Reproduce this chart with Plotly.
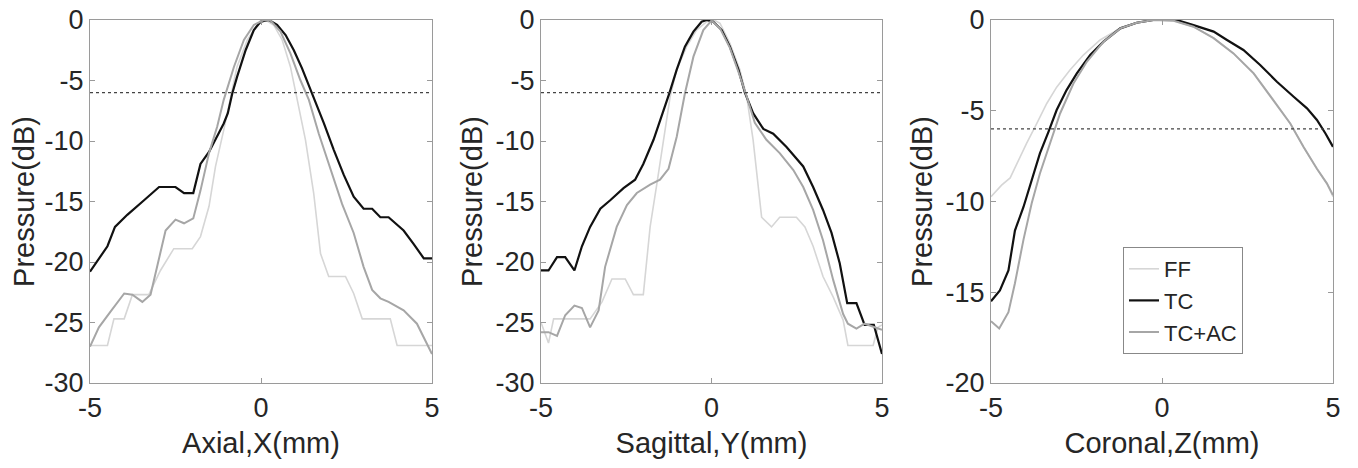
import plotly.graph_objects as go
from plotly.subplots import make_subplots

# ---------------- data ----------------
# Panel 1: Axial, X
ax_ff_x = [-5, -4.49, -4.30, -4.0, -3.76, -3.28, -2.94, -2.55, -2.01, -1.77, -1.52, -1.33, -1.09, -0.89, -0.70, -0.40, -0.11, 0.13, 0.37, 0.62, 0.86, 1.06, 1.30, 1.54, 1.74, 1.98, 2.47, 2.71, 2.96, 3.78, 3.98, 5]
ax_ff_y = [-26.9, -26.9, -24.7, -24.7, -22.7, -22.7, -20.7, -18.9, -18.9, -17.9, -15.4, -12.1, -9.1, -6.3, -3.86, -1.65, -0.41, 0, -0.41, -1.65, -3.86, -6.6, -9.9, -14.3, -19.3, -21.2, -21.2, -22.6, -24.7, -24.7, -26.9, -26.9]
ax_tc_x = [-5, -4.49, -4.27, -3.91, -3.42, -2.98, -2.50, -2.25, -1.98, -1.77, -1.52, -1.28, -1.09, -0.97, -0.84, -0.70, -0.45, -0.21, -0.015, 0.23, 0.47, 0.72, 0.96, 1.20, 1.50, 1.84, 2.13, 2.42, 2.71, 3.0, 3.25, 3.49, 3.73, 4.17, 4.46, 4.76, 5]
ax_tc_y = [-20.8, -18.7, -17.1, -16.1, -14.9, -13.8, -13.8, -14.3, -14.3, -11.9, -10.9, -9.65, -8.55, -7.7, -6.07, -4.7, -2.5, -0.83, -0.14, 0, -0.4, -1.24, -2.5, -4.0, -6.07, -8.55, -10.75, -12.8, -14.6, -15.6, -15.6, -16.3, -16.3, -17.4, -18.5, -19.7, -19.7]
ax_ac_x = [-5, -4.74, -4.40, -4.0, -3.76, -3.47, -3.23, -3.03, -2.79, -2.5, -2.25, -1.98, -1.77, -1.52, -1.28, -1.09, -0.79, -0.50, -0.21, 0.08, 0.28, 0.57, 0.86, 1.15, 1.40, 1.69, 2.03, 2.37, 2.71, 3.0, 3.25, 3.49, 3.73, 4.17, 4.56, 5]
ax_ac_y = [-27.0, -25.4, -24.1, -22.6, -22.7, -23.3, -22.7, -20.4, -17.4, -16.5, -16.8, -16.4, -14.1, -11.0, -8.8, -6.6, -3.86, -1.65, -0.41, 0, -0.05, -0.96, -2.76, -4.96, -6.6, -9.4, -12.4, -15.2, -17.6, -20.4, -22.3, -23.0, -23.3, -24.0, -25.1, -27.6]

# Panel 2: Sagittal, Y
sg_ff_x = [-5, -4.78, -4.63, -3.56, -3.21, -2.92, -2.53, -2.29, -2.0, -1.80, -1.60, -1.41, -1.21, -1.02, -0.73, -0.44, -0.14, 0.07, 0.25, 0.54, 0.83, 1.03, 1.22, 1.47, 1.76, 2.0, 2.49, 2.74, 2.98, 3.27, 3.57, 3.86, 4.0, 4.74, 4.88, 5]
sg_ff_y = [-25.0, -26.7, -24.7, -24.7, -23.3, -21.4, -21.4, -22.7, -22.7, -17.1, -13.5, -9.9, -6.3, -4.1, -2.2, -0.83, -0.14, 0, -0.28, -1.93, -4.1, -6.3, -9.9, -16.3, -17.1, -16.3, -16.3, -17.1, -18.7, -21.2, -22.9, -24.8, -26.9, -26.9, -25.4, -25.2]
sg_tc_x = [-5, -4.78, -4.53, -4.29, -4.02, -3.80, -3.56, -3.26, -2.97, -2.58, -2.24, -2.0, -1.70, -1.46, -1.23, -1.02, -0.78, -0.53, -0.29, -0.14, 0.05, 0.30, 0.54, 0.79, 0.98, 1.22, 1.52, 1.81, 2.20, 2.69, 2.98, 3.27, 3.52, 3.76, 3.98, 4.25, 4.49, 4.76, 5]
sg_tc_y = [-20.7, -20.7, -19.6, -19.6, -20.7, -18.7, -17.1, -15.6, -14.9, -13.9, -13.2, -11.9, -9.9, -8.0, -6.0, -4.1, -2.2, -0.96, -0.14, 0, -0.14, -0.83, -2.2, -4.1, -6.0, -7.7, -9.0, -9.4, -10.5, -12.1, -13.8, -15.7, -17.6, -20.1, -23.4, -23.4, -25.2, -25.2, -27.6]
sg_ac_x = [-5, -4.78, -4.53, -4.29, -4.02, -3.80, -3.56, -3.31, -3.12, -2.78, -2.48, -2.19, -1.80, -1.51, -1.26, -1.02, -0.78, -0.53, -0.24, 0.0, 0.25, 0.54, 0.79, 1.03, 1.27, 1.61, 2.0, 2.40, 2.69, 2.98, 3.27, 3.57, 3.86, 4.0, 4.25, 4.49, 5]
sg_ac_y = [-25.8, -25.8, -26.1, -24.4, -23.6, -23.8, -25.4, -24.0, -20.4, -17.1, -15.3, -14.3, -13.6, -13.2, -12.3, -9.65, -6.07, -3.03, -0.83, -0.05, -0.69, -2.3, -4.3, -6.3, -8.5, -9.9, -11.0, -12.4, -13.8, -15.7, -18.2, -21.5, -24.3, -25.1, -25.5, -25.1, -25.6]

# Panel 3: Coronal, Z
cr_ff_x = [-5, -4.83, -4.69, -4.44, -4.20, -3.96, -3.66, -3.37, -3.08, -2.69, -2.30, -1.81, -1.22, -0.74, -0.25, 0.34, 0.92, 1.51, 2.09, 2.68, 3.26, 3.75, 4.14, 4.53, 4.82, 5]
cr_ff_y = [-9.74, -9.4, -9.1, -8.7, -7.7, -6.8, -5.7, -4.6, -3.7, -2.76, -1.93, -1.1, -0.46, -0.15, 0, -0.04, -0.37, -1.0, -1.84, -2.94, -4.4, -5.7, -7.0, -8.2, -9.0, -9.74]
cr_tc_x = [-5, -4.74, -4.49, -4.30, -4.05, -3.81, -3.57, -3.32, -3.08, -2.79, -2.49, -2.10, -1.71, -1.22, -0.74, -0.25, 0.43, 0.92, 1.51, 1.90, 2.38, 2.87, 3.36, 3.85, 4.24, 4.53, 4.78, 5]
cr_tc_y = [-15.5, -14.9, -13.8, -11.6, -10.3, -8.8, -7.35, -6.16, -4.96, -3.86, -2.94, -1.93, -1.19, -0.46, -0.15, 0, 0, -0.28, -0.64, -1.1, -1.65, -2.48, -3.4, -4.23, -4.87, -5.51, -6.25, -6.99]
cr_ac_x = [-5, -4.76, -4.49, -4.30, -4.05, -3.81, -3.57, -3.27, -2.98, -2.59, -2.20, -1.71, -1.22, -0.74, -0.25, 0.34, 0.92, 1.51, 2.09, 2.68, 3.26, 3.75, 4.14, 4.53, 4.82, 5]
cr_ac_y = [-16.6, -17.0, -16.1, -14.5, -12.1, -10.1, -8.46, -6.8, -5.15, -3.5, -2.3, -1.19, -0.46, -0.15, 0, -0.04, -0.37, -1.0, -1.84, -2.94, -4.4, -5.7, -7.0, -8.2, -9.0, -9.65]

series_names = ["FF", "TC", "TC+AC"]
x_titles = ["Axial,X(mm)", "Sagittal,Y(mm)", "Coronal,Z(mm)"]
y_title = "Pressure(dB)"
x_ticks = [-5, 0, 5]
x_ticklabels = ["-5", "0", "5"]
y_ticks_12 = [0, -5, -10, -15, -20, -25, -30]
y_ticklabels_12 = ["0", "-5", "-10", "-15", "-20", "-25", "-30"]
y_ticks_3 = [0, -5, -10, -15, -20]
y_ticklabels_3 = ["0", "-5", "-10", "-15", "-20"]
half_max_db = -6

panels = [
    [(ax_ff_x, ax_ff_y), (ax_tc_x, ax_tc_y), (ax_ac_x, ax_ac_y)],
    [(sg_ff_x, sg_ff_y), (sg_tc_x, sg_tc_y), (sg_ac_x, sg_ac_y)],
    [(cr_ff_x, cr_ff_y), (cr_tc_x, cr_tc_y), (cr_ac_x, cr_ac_y)],
]

# ---------------- styles ----------------
W, H = 1358, 468
OFF = 8  # page offset of the figure inside the browser window
FONT = "Liberation Sans, Arial, sans-serif"
TXT = "#262626"
FRAME = "#9a9a9a"
styles = [dict(color="#d6d6d6", width=1.6),
          dict(color="#111111", width=2.2),
          dict(color="#a6a6a6", width=2.0)]

def px_x(p):
    return (p - OFF) / W

def px_y(p):
    return 1 - (p - OFF) / H

x_domains = [(px_x(90), px_x(432)), (px_x(541), px_x(882)), (px_x(991), px_x(1333))]
y_domain = (px_y(383), px_y(20))

fig = make_subplots(rows=1, cols=3)

for c, panel in enumerate(panels):
    for s, (xs, ys) in enumerate(panel):
        fig.add_trace(go.Scatter(x=xs, y=ys, mode="lines", name=series_names[s],
                                 line=styles[s], showlegend=(c == 2)),
                      row=1, col=c + 1)
    fig.add_trace(go.Scatter(x=[x_ticks[0], x_ticks[-1]], y=[half_max_db, half_max_db],
                             mode="lines", line=dict(color="#444444", width=1.2, dash="dot"),
                             showlegend=False), row=1, col=c + 1)

axis_common = dict(showline=True, mirror="ticks", linecolor=FRAME, linewidth=1.2,
                   ticks="inside", ticklen=5, tickcolor=FRAME, tickwidth=1,
                   showgrid=False, zeroline=False, automargin=False,
                   ticklabeloverflow="allow",
                   tickfont=dict(family=FONT, size=27, color=TXT))

for c in range(3):
    fig.update_xaxes(axis_common, range=[-5, 5], tickvals=x_ticks, ticktext=x_ticklabels,
                     domain=list(x_domains[c]),
                     title=dict(text=x_titles[c], font=dict(family=FONT, size=29, color=TXT), standoff=11),
                     row=1, col=c + 1)
    if c < 2:
        yr, yt, yl = [-30, 0], y_ticks_12, y_ticklabels_12
    else:
        yr, yt, yl = [-20, 0], y_ticks_3, y_ticklabels_3
    fig.update_yaxes(axis_common, range=yr, tickvals=yt, ticktext=yl,
                     domain=list(y_domain),
                     title=dict(text=y_title, font=dict(family=FONT, size=29, color=TXT), standoff=4),
                     row=1, col=c + 1)

fig.update_layout(
    width=W, height=H,
    margin=dict(l=0, r=0, t=0, b=0, autoexpand=False),
    paper_bgcolor="white", plot_bgcolor="white",
    font=dict(family=FONT, color=TXT),
    legend=dict(x=px_x(1123), y=px_y(247), xanchor="left", yanchor="top",
                bgcolor="white", bordercolor="#888888", borderwidth=1,
                font=dict(family=FONT, size=22, color=TXT),
                tracegroupgap=0, itemwidth=30),
    showlegend=True,
)

fig.write_html("out.html")
